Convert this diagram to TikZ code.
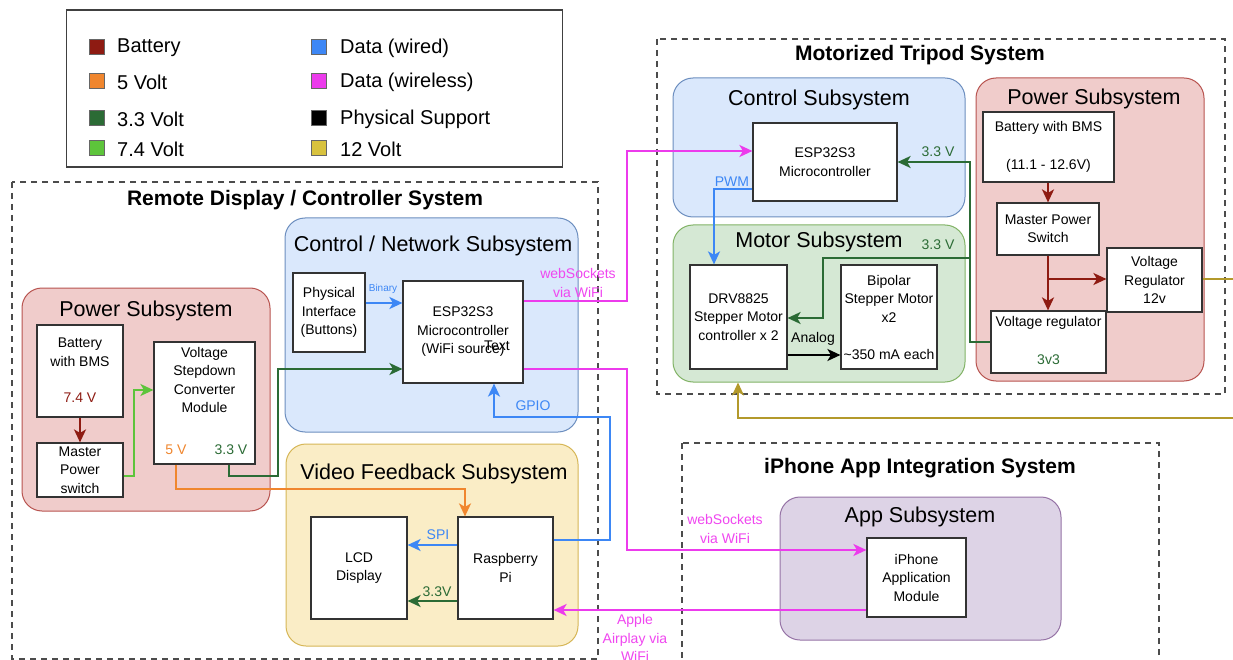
\documentclass[tikz,border=0pt]{standalone}
\usepackage{fontspec}
\setmainfont{Liberation Sans}
\usetikzlibrary{arrows.meta,calc}
\definecolor{cBat}{HTML}{8E1B12}
\definecolor{cOr}{HTML}{F0862E}
\definecolor{cDk}{HTML}{2B6B35}
\definecolor{cLt}{HTML}{5DC43B}
\definecolor{cBl}{HTML}{3D87F5}
\definecolor{cMg}{HTML}{EC3BEC}
\definecolor{cMgT}{HTML}{F046F0}
\definecolor{cGo}{HTML}{B3992B}
\definecolor{cGoF}{HTML}{D8C23E}
\definecolor{fBlue}{HTML}{DAE8FC}\definecolor{sBlue}{HTML}{6C8EBF}
\definecolor{fRed}{HTML}{F0CCCB}\definecolor{sRed}{HTML}{B85450}
\definecolor{fGreen}{HTML}{D5E8D4}\definecolor{sGreen}{HTML}{82B366}
\definecolor{fYel}{HTML}{FAEDC6}\definecolor{sYel}{HTML}{D6B656}
\definecolor{fPur}{HTML}{DDD3E6}\definecolor{sPur}{HTML}{9673A6}
\begin{document}
\begin{tikzpicture}[x=1pt,y=-1pt,
  sysbox/.style={draw=black!70, dash pattern=on 6pt off 5pt, line width=1.2pt},
  sub/.style={rounded corners=20pt, line width=1pt, inner sep=0pt},
  box/.style={draw=black!80, fill=white, line width=1.2pt, inner sep=0pt, align=center, font=\fontsize{14}{18.5}\selectfont},
  lbl/.style={inner sep=0pt, align=center, font=\fontsize{14}{18.5}\selectfont},
  ttl/.style={inner sep=0pt, font=\fontsize{21.5}{24}\selectfont},
  systtl/.style={inner sep=0pt, font=\fontsize{21}{24}\selectfont\bfseries},
  leg/.style={inner sep=0pt, anchor=west, font=\fontsize{20}{24}\selectfont},
  sq/.style={minimum size=15pt, inner sep=0pt, draw=black!60, line width=0.8pt},
  wire/.style={line width=2pt, -{Stealth[length=13pt,width=12pt,inset=3.5pt]}},
  plain/.style={line width=2pt}]
\useasboundingbox (0,0) rectangle (1233,660);
\fill[white] (0,0) rectangle (1233,660);

% ---------- Legend ----------
\node[draw=black!75, line width=1.2pt, minimum width=496pt, minimum height=157pt, inner sep=0pt] (legend) at (314.5,88.5) {};
\node[sq, fill=cBat] (sq1) at (96.5,47) {};  \node[leg] (l1) at (117,48) {Battery};
\node[sq, fill=cOr]  (sq2) at (96.5,81) {};  \node[leg] (l2) at (117,82) {5 Volt};
\node[sq, fill=cDk]  (sq3) at (96.5,118) {}; \node[leg] (l3) at (117,119) {3.3 Volt};
\node[sq, fill=cLt]  (sq4) at (96.5,148) {}; \node[leg] (l4) at (117,149) {7.4 Volt};
\node[sq, fill=cBl]  (sq5) at (318.5,47) {};  \node[leg] (l5) at (340,48) {Data (wired)};
\node[sq, fill=cMg]  (sq6) at (318.5,81) {};  \node[leg] (l6) at (340,82) {Data (wireless)};
\node[sq, fill=black] (sq7) at (318.5,118) {}; \node[leg] (l7) at (340,119) {Physical Support};
\node[sq, fill=cGoF] (sq8) at (318.5,148) {}; \node[leg] (l8) at (340,149) {12 Volt};

% ---------- System frames ----------
\draw[sysbox] (12,182) rectangle (598,659);
\node[systtl] (remT) at (305,200) {Remote Display / Controller System};
\draw[sysbox] (657,39) rectangle (1225,394);
\node[systtl] (triT) at (920,55) {Motorized Tripod System};
\draw[sysbox] (682,443) rectangle (1159,690);
\node[systtl] (iphT) at (920,468) {iPhone App Integration System};

% ---------- Subsystems ----------
\node[sub, fill=fRed, draw=sRed, minimum width=248pt, minimum height=223pt] (lPow) at (146,399.5) {};
\node[ttl] (lPowT) at (146,311) {Power Subsystem};
\node[sub, fill=fBlue, draw=sBlue, minimum width=293pt, minimum height=214pt] (cnSub) at (431.5,325) {};
\node[ttl] (cnSubT) at (433,246) {Control / Network Subsystem};
\node[sub, fill=fYel, draw=sYel, minimum width=292pt, minimum height=202pt] (vfSub) at (432,545) {};
\node[ttl] (vfSubT) at (434,474) {Video Feedback Subsystem};
\node[sub, fill=fBlue, draw=sBlue, minimum width=292pt, minimum height=139pt] (ctSub) at (819,147.5) {};
\node[ttl] (ctSubT) at (819,100) {Control Subsystem};
\node[sub, fill=fGreen, draw=sGreen, minimum width=292pt, minimum height=157pt] (moSub) at (819,303.5) {};
\node[ttl] (moSubT) at (819,242) {Motor Subsystem};
\node[sub, fill=fRed, draw=sRed, minimum width=228pt, minimum height=303pt] (tPow) at (1090,229.5) {};
\node[ttl] (tPowT) at (1094,99) {Power Subsystem};
\node[sub, fill=fPur, draw=sPur, minimum width=281pt, minimum height=143pt] (apSub) at (920.5,568.5) {};
\node[ttl] (apSubT) at (920,517) {App Subsystem};

% ---------- Remote power boxes ----------
\node[box, minimum width=86pt, minimum height=92pt] (bat) at (80,371) {};
\node[lbl] (batT) at (80,352.5) {Battery\\with BMS};
\node[lbl, text=cBat] (batV) at (80,398) {7.4 V};
\node[box, minimum width=86pt, minimum height=54pt] (msw) at (80,470) {Master\\Power\\switch};
\node[box, minimum width=101pt, minimum height=122pt] (sd) at (204.5,403) {};
\node[lbl] (sdT) at (204.5,380) {Voltage\\Stepdown\\Converter\\Module};
\node[lbl, text=cOr] (sd5) at (176,450) {5 V};
\node[lbl, text=cDk] (sd33) at (231,450) {3.3 V};

% ---------- Control / network ----------
\node[box, minimum width=72pt, minimum height=79pt] (phy) at (329,312.5) {Physical\\Interface\\(Buttons)};
\node[box, minimum width=120pt, minimum height=102pt] (espR) at (463,332) {ESP32S3\\Microcontroller\\(WiFi source)};
\node[lbl] (txtR) at (497,346) {Text};

% ---------- Video ----------
\node[box, minimum width=96pt, minimum height=102pt] (lcd) at (359,568) {LCD\\Display};
\node[box, minimum width=95pt, minimum height=102pt] (rpi) at (505.5,568) {Raspberry\\Pi};

% ---------- Tripod ----------
\node[box, minimum width=144pt, minimum height=78pt] (espT) at (825,162) {ESP32S3\\Microcontroller};
\node[box, minimum width=97pt, minimum height=104pt] (drv) at (738.5,317) {DRV8825\\Stepper Motor\\controller x 2};
\node[box, minimum width=96pt, minimum height=104pt] (bip) at (889,317) {};
\node[lbl] (bipT) at (889,298.5) {Bipolar\\Stepper Motor\\x2};
\node[lbl] (bipC) at (889,354) {\textasciitilde350 mA each};
\node[box, minimum width=131pt, minimum height=70pt] (tbat) at (1048.5,147) {};
\node[lbl] (tbatT) at (1048.5,128) {Battery with BMS};
\node[lbl] (tbatV) at (1048.5,166) {(11.1 - 12.6V)};
\node[box, minimum width=102pt, minimum height=52pt] (tmsw) at (1048,229) {Master Power\\Switch};
\node[box, minimum width=95pt, minimum height=64pt] (vr12) at (1154.5,280) {Voltage\\Regulator\\12v};
\node[box, minimum width=115pt, minimum height=62pt] (vr3) at (1048.5,342) {};
\node[lbl] (vr3T) at (1048.5,323) {Voltage regulator};
\node[lbl, text=cDk] (vr3V) at (1048.5,360) {3v3};

% ---------- iPhone ----------
\node[box, minimum width=99pt, minimum height=79pt] (iph) at (916.5,577.5) {iPhone\\Application\\Module};

% ---------- Connectors ----------
\draw[wire, cBat] (bat.south) -- (msw.north);
\draw[wire, cLt] (msw.east |- 0,476) -- (134,476) -- (134,390) -- (sd.west |- 0,390);
\draw[wire, cDk] (sd.south -| 229,0) -- (229,476) -- (278,476) -- (278,369) -- (espR.west |- 0,369);
\draw[wire, cOr] (sd.south -| 176,0) -- (176,489) -- (465,489) -- (rpi.north -| 465,0);
\draw[wire, cBl] (phy.east |- 0,303) -- (espR.west |- 0,303);
\node[inner sep=0pt, text=cBl, font=\fontsize{10}{12}\selectfont] (binL) at (383,289) {Binary};
\draw[wire, cBl] (rpi.east |- 0,540) -- (610,540) -- (610,417) -- (494,417) -- (espR.south -| 494,0);
\node[lbl, text=cBl] (gpioL) at (533,406) {GPIO};
\draw[wire, cMg] (espR.east |- 0,301) -- (627,301) -- (627,151) -- (espT.west |- 0,151);
\node[lbl, text=cMgT] (ws1L) at (578,283) {webSockets\\via WiFi};
\draw[wire, cMg] (espR.east |- 0,369) -- (627,369) -- (627,550) -- (iph.west |- 0,550);
\node[lbl, text=cMgT] (ws2L) at (725,529) {webSockets\\via WiFi};
\draw[wire, cMg] (iph.west |- 0,610) -- (rpi.east |- 0,610);
\node[lbl, text=cMgT] (apL) at (635,638) {Apple\\Airplay via\\WiFi};
\draw[wire, cBl] (rpi.west |- 0,545) -- (lcd.east |- 0,545);
\node[lbl, text=cBl] (spiL) at (438,535) {SPI};
\draw[wire, cDk] (rpi.west |- 0,601) -- (lcd.east |- 0,601);
\node[lbl, text=cDk] (v33L) at (437,592) {3.3V};

\draw[wire, cDk] (vr3.west |- 0,342) -- (970,342) -- (970,162) -- (espT.east |- 0,162);
\node[lbl, text=cDk] (t33L) at (938,152) {3.3 V};
\draw[wire, cDk] (970,258) -- (823,258) -- (823,318) -- (drv.east |- 0,318);
\node[lbl, text=cDk] (m33L) at (938,245) {3.3 V};
\draw[wire, cBl] (espT.west |- 0,189) -- (714,189) -- (drv.north -| 714,0);
\node[lbl, text=cBl] (pwmL) at (732,182) {PWM};
\draw[wire, black] (drv.east |- 0,355) -- (bip.west |- 0,355);
\node[lbl] (anL) at (813,339) {Analog};
\draw[wire, cBat] (tbat.south -| 1048,0) -- (tmsw.north -| 1048,0);
\draw[wire, cBat] (tmsw.south -| 1048,0) -- (vr3.north -| 1048,0);
\draw[wire, cBat] (1048,279) -- (vr12.west |- 0,279);
\draw[wire, cGo] (vr12.east |- 0,279) -- (1245,279) -- (1245,418) -- (738,418) -- (moSub.south -| 738,0);
\end{tikzpicture}
\end{document}
